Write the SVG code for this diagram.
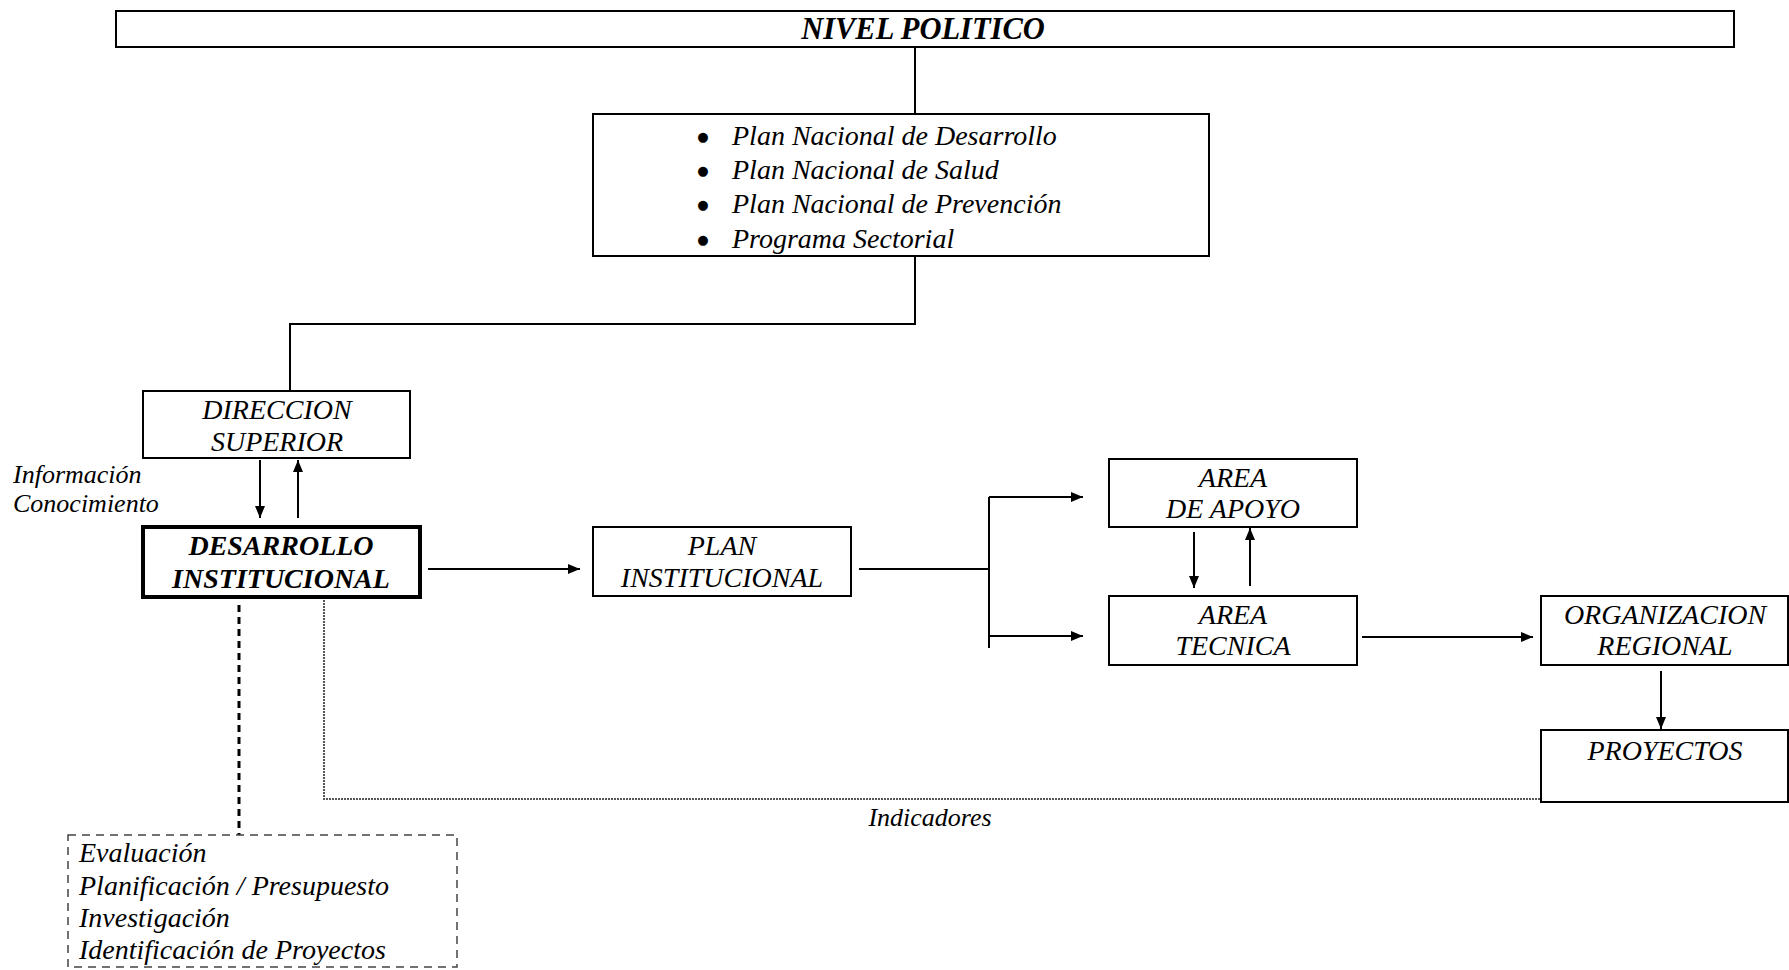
<svg xmlns="http://www.w3.org/2000/svg" width="1789" height="970" viewBox="0 0 1789 970">
<style>
.box{fill:#fff;stroke:#000;stroke-width:2}
.thick{fill:#fff;stroke:#000;stroke-width:4}
.t{font-family:"Liberation Serif","Times New Roman",serif;font-style:italic;font-size:28px;fill:#000}
.c{text-anchor:middle}
.b{font-weight:bold}
.bul{font-family:"DejaVu Sans",sans-serif;font-size:13px;text-anchor:middle;fill:#000}
.lbl{font-family:"Liberation Serif","Times New Roman",serif;font-style:italic;font-size:26px;fill:#000}
.ln{fill:none;stroke:#000;stroke-width:2}
.arr{fill:none;stroke:#000;stroke-width:2;marker-end:url(#ah)}
</style>
<defs>
<marker id="ah" markerUnits="userSpaceOnUse" markerWidth="12" markerHeight="10" refX="12" refY="5" orient="auto">
<path d="M0,0 L12,5 L0,10 z" fill="#000"/>
</marker>
</defs>
<rect width="1789" height="970" fill="#fff"/>

<g id="connectors">
<line class="ln" x1="915" y1="47" x2="915" y2="114"/>
<polyline class="ln" points="915,256 915,324 290,324 290,391"/>
<line class="arr" x1="260" y1="460" x2="260" y2="518"/>
<line class="arr" x1="298" y1="518" x2="298" y2="460"/>
<line class="arr" x1="428" y1="569" x2="580" y2="569"/>
<line class="ln" x1="859" y1="569" x2="989" y2="569"/>
<line class="ln" x1="989" y1="497" x2="989" y2="648"/>
<line class="arr" x1="989" y1="497" x2="1083" y2="497"/>
<line class="arr" x1="989" y1="636" x2="1083" y2="636"/>
<line class="arr" x1="1194" y1="532" x2="1194" y2="588"/>
<line class="arr" x1="1250" y1="586" x2="1250" y2="528"/>
<line class="arr" x1="1362" y1="637" x2="1533" y2="637"/>
<line class="arr" x1="1661" y1="671" x2="1661" y2="729"/>
<line x1="239" y1="605" x2="239" y2="835" stroke="#000" stroke-width="3" stroke-dasharray="7,5"/>
<polyline points="324,597 324,799 1540,799" fill="none" stroke="#555" stroke-width="2" stroke-dasharray="2,1"/>
<text class="lbl c" x="930" y="826">Indicadores</text>
<text class="lbl" x="13" y="483">Información</text>
<text class="lbl" x="13" y="512">Conocimiento</text>
</g>

<g id="nivel-politico">
<rect class="box" x="116" y="11" width="1618" height="36"/>
<text class="t c b" x="923" y="39" style="font-size:30.5px">NIVEL POLITICO</text>
</g>

<g id="planes">
<rect class="box" x="593" y="114" width="616" height="142"/>
<text class="bul" x="703" y="141">●</text>
<text class="t" x="732" y="145">Plan Nacional de Desarrollo</text>
<text class="bul" x="703" y="175">●</text>
<text class="t" x="732" y="179">Plan Nacional de Salud</text>
<text class="bul" x="703" y="209">●</text>
<text class="t" x="732" y="213">Plan Nacional de Prevención</text>
<text class="bul" x="703" y="244">●</text>
<text class="t" x="732" y="248">Programa Sectorial</text>
</g>

<g id="direccion-superior">
<rect class="box" x="143" y="391" width="267" height="67"/>
<text class="t c" x="277" y="419">DIRECCION</text>
<text class="t c" x="277" y="451">SUPERIOR</text>
</g>

<g id="desarrollo-institucional">
<rect class="thick" x="143" y="527" width="277" height="70"/>
<text class="t c b" x="281" y="555">DESARROLLO</text>
<text class="t c b" x="281" y="588">INSTITUCIONAL</text>
</g>

<g id="plan-institucional">
<rect class="box" x="593" y="527" width="258" height="69"/>
<text class="t c" x="722" y="555">PLAN</text>
<text class="t c" x="722" y="587">INSTITUCIONAL</text>
</g>

<g id="area-apoyo">
<rect class="box" x="1109" y="459" width="248" height="68"/>
<text class="t c" x="1233" y="487">AREA</text>
<text class="t c" x="1233" y="518">DE APOYO</text>
</g>

<g id="area-tecnica">
<rect class="box" x="1109" y="596" width="248" height="69"/>
<text class="t c" x="1233" y="624">AREA</text>
<text class="t c" x="1233" y="655">TECNICA</text>
</g>

<g id="organizacion-regional">
<rect class="box" x="1541" y="596" width="247" height="69"/>
<text class="t c" x="1665" y="624">ORGANIZACION</text>
<text class="t c" x="1665" y="655">REGIONAL</text>
</g>

<g id="proyectos">
<rect class="box" x="1541" y="730" width="247" height="72"/>
<text class="t c" x="1665" y="760">PROYECTOS</text>
</g>

<g id="funciones">
<rect x="68" y="835" width="389" height="132" fill="none" stroke="#444" stroke-width="1.5" stroke-dasharray="8,6"/>
<text class="t" x="79" y="862">Evaluación</text>
<text class="t" x="79" y="895">Planificación / Presupuesto</text>
<text class="t" x="79" y="927">Investigación</text>
<text class="t" x="79" y="959">Identificación de Proyectos</text>
</g>
</svg>
